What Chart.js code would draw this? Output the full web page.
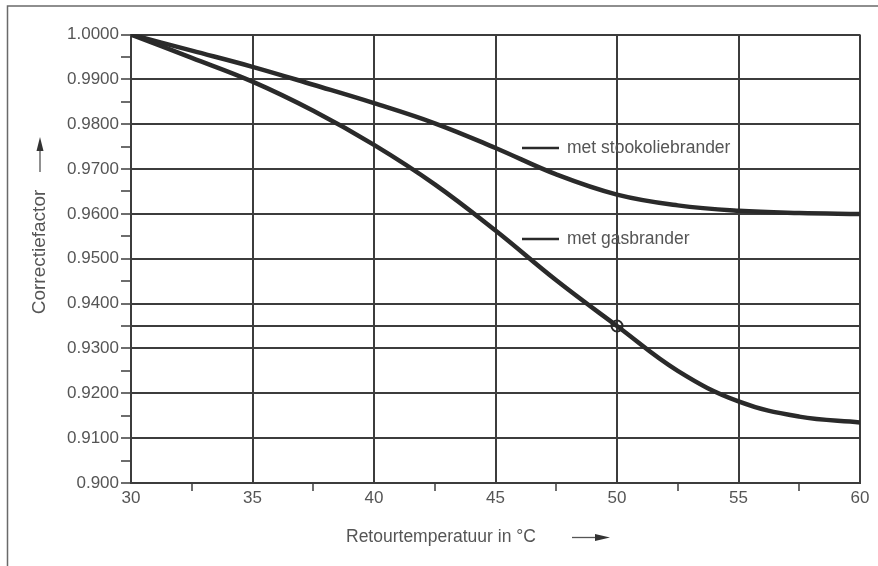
<!DOCTYPE html>
<html>
<head>
<meta charset="utf-8">
<script src="https://cdn.jsdelivr.net/npm/chart.js@4.4.1/dist/chart.umd.min.js"></script>
<style>
html,body{margin:0;padding:0;background:#fff;}
#wrap{width:878px;height:566px;position:relative;}
</style>
</head>
<body>
<div id="wrap"><canvas id="c" width="878" height="566"></canvas></div>
<script>
// ---- data ----
const temperatures = [30, 32.5, 35, 37.5, 40, 42.5, 45, 47.5, 50, 52.5, 55, 57.5, 60];
const stookolieValues = [1.0000, 0.9964, 0.9928, 0.9888, 0.9847, 0.9802, 0.9747, 0.9688, 0.9643, 0.9619, 0.9607, 0.9602, 0.9600];
const gasValues = [1.0000, 0.9948, 0.9895, 0.9830, 0.9754, 0.9666, 0.9563, 0.9452, 0.9350, 0.9250, 0.9182, 0.9148, 0.9135];
const markerTemp = [50];
const markerValue = [0.935];
const seriesNames = ['met stookoliebrander', 'met gasbrander'];
const yTickLabels = ['0.900', '0.9100', '0.9200', '0.9300', '0.9400', '0.9500', '0.9600', '0.9700', '0.9800', '0.9900', '1.0000'];
const yMinorTicks = [0.905, 0.915, 0.925, 0.935, 0.945, 0.955, 0.965, 0.975, 0.985, 0.995];
const xTickLabels = ['30', '35', '40', '45', '50', '55', '60'];
const xMinorTicks = [32.5, 37.5, 42.5, 47.5, 52.5, 57.5];
const yAxisTitle = 'Correctiefactor';
const xAxisTitle = 'Retourtemperatuur in °C';

const FONT = '"Liberation Sans", Arial, sans-serif';
const TEXT = '#555555';
const GRID = '#3c3c3c';
const LINE = '#2a2a2a';

const yMajor = yTickLabels.map(s => parseFloat(s));
const xMajor = xTickLabels.map(s => parseFloat(s));
const near = (a, b) => Math.abs(a - b) < 1e-6;
const isYMajor = v => yMajor.some(m => near(m, v));
const isXMajor = v => xMajor.some(m => near(m, v));

const toXY = (xs, ys) => xs.map((x, i) => ({x: x, y: ys[i]}));

const decor = {
  id: 'decor',
  beforeDraw(chart) {
    const ctx = chart.ctx;
    ctx.save();
    ctx.fillStyle = '#fff';
    ctx.fillRect(0, 0, chart.width, chart.height);
    ctx.strokeStyle = '#6a6a6a';
    ctx.lineWidth = 1.5;
    ctx.beginPath();
    ctx.moveTo(7.5, chart.height);
    ctx.lineTo(7.5, 6);
    ctx.lineTo(chart.width, 6);
    ctx.stroke();
    ctx.restore();
  },
  afterDraw(chart) {
    const ctx = chart.ctx;
    ctx.save();
    ctx.fillStyle = TEXT;
    ctx.strokeStyle = TEXT;
    // y title
    ctx.save();
    ctx.translate(40, 252);
    ctx.rotate(-Math.PI / 2);
    ctx.font = '19px ' + FONT;
    ctx.textAlign = 'center';
    ctx.textBaseline = 'middle';
    ctx.fillText(yAxisTitle, 0, 0);
    ctx.restore();
    // up arrow
    ctx.lineWidth = 1.3;
    ctx.beginPath();
    ctx.moveTo(40, 172);
    ctx.lineTo(40, 148);
    ctx.stroke();
    ctx.fillStyle = '#333';
    ctx.beginPath();
    ctx.moveTo(40, 137);
    ctx.lineTo(36.5, 151);
    ctx.lineTo(43.5, 151);
    ctx.closePath();
    ctx.fill();
    // x title
    ctx.fillStyle = TEXT;
    ctx.font = '17.5px ' + FONT;
    ctx.textAlign = 'left';
    ctx.textBaseline = 'middle';
    ctx.fillText(xAxisTitle, 346, 537);
    // right arrow
    ctx.beginPath();
    ctx.moveTo(572, 537.5);
    ctx.lineTo(597, 537.5);
    ctx.stroke();
    ctx.fillStyle = '#333';
    ctx.beginPath();
    ctx.moveTo(610, 537.5);
    ctx.lineTo(595, 534);
    ctx.lineTo(595, 541);
    ctx.closePath();
    ctx.fill();
    // in-chart labels
    const labelY = [148, 239];
    ctx.strokeStyle = LINE;
    ctx.lineWidth = 2.5;
    ctx.fillStyle = TEXT;
    ctx.font = '17.5px ' + FONT;
    labelY.forEach((y, i) => {
      ctx.beginPath();
      ctx.moveTo(522, y);
      ctx.lineTo(559, y);
      ctx.stroke();
      ctx.fillText(seriesNames[i], 567, y);
    });
    ctx.restore();
  }
};

new Chart(document.getElementById('c'), {
  type: 'line',
  data: {
    datasets: [
      {
        label: seriesNames[0],
        data: toXY(temperatures, stookolieValues),
        borderColor: LINE,
        borderWidth: 4.5,
        pointRadius: 0,
        tension: 0.4,
        fill: false
      },
      {
        label: seriesNames[1],
        data: toXY(temperatures, gasValues),
        borderColor: LINE,
        borderWidth: 4.5,
        pointRadius: 0,
        tension: 0.4,
        fill: false
      },
      {
        label: 'marker',
        data: toXY(markerTemp, markerValue),
        showLine: false,
        pointRadius: 5.5,
        pointBorderWidth: 2,
        pointBorderColor: LINE,
        pointBackgroundColor: 'rgba(0,0,0,0)'
      }
    ]
  },
  options: {
    responsive: false,
    animation: false,
    layout: {padding: {top: 34.5, right: 18, left: 0, bottom: 0}},
    plugins: {legend: {display: false}, tooltip: {enabled: false}},
    scales: {
      x: {
        type: 'linear',
        min: 30,
        max: 60,
        afterBuildTicks: s => {
          s.ticks = xMajor.concat(xMinorTicks).sort((a, b) => a - b).map(v => ({value: v}));
        },
        afterFit: s => { s.height = 83; },
        ticks: {
          autoSkip: false,
          maxRotation: 0,
          padding: -3,
          color: TEXT,
          font: {family: FONT, size: 17},
          callback: (v) => {
            const i = xMajor.findIndex(m => near(m, v));
            return i >= 0 ? xTickLabels[i] : '';
          }
        },
        grid: {
          color: c => (c.tick && isXMajor(c.tick.value)) ? GRID : 'rgba(0,0,0,0)',
          tickColor: c => (c.tick && isXMajor(c.tick.value)) ? 'rgba(0,0,0,0)' : GRID,
          lineWidth: 2,
          tickWidth: 1.5,
          tickLength: 8
        },
        border: {color: GRID, width: 2}
      },
      y: {
        type: 'linear',
        min: 0.9,
        max: 1.0,
        afterBuildTicks: s => {
          s.ticks = yMajor.concat(yMinorTicks).sort((a, b) => a - b).map(v => ({value: v}));
        },
        afterFit: s => { s.width = 131; },
        ticks: {
          autoSkip: false,
          padding: 2,
          color: TEXT,
          font: {family: FONT, size: 17},
          callback: (v) => {
            const i = yMajor.findIndex(m => near(m, v));
            return i >= 0 ? yTickLabels[i] : '';
          }
        },
        grid: {
          color: c => (c.tick && (isYMajor(c.tick.value) || near(c.tick.value, markerValue[0]))) ? GRID : 'rgba(0,0,0,0)',
          tickColor: GRID,
          lineWidth: 2,
          tickWidth: 1.5,
          tickLength: 10
        },
        border: {color: GRID, width: 2}
      }
    }
  },
  plugins: [decor]
});
</script>
</body>
</html>
